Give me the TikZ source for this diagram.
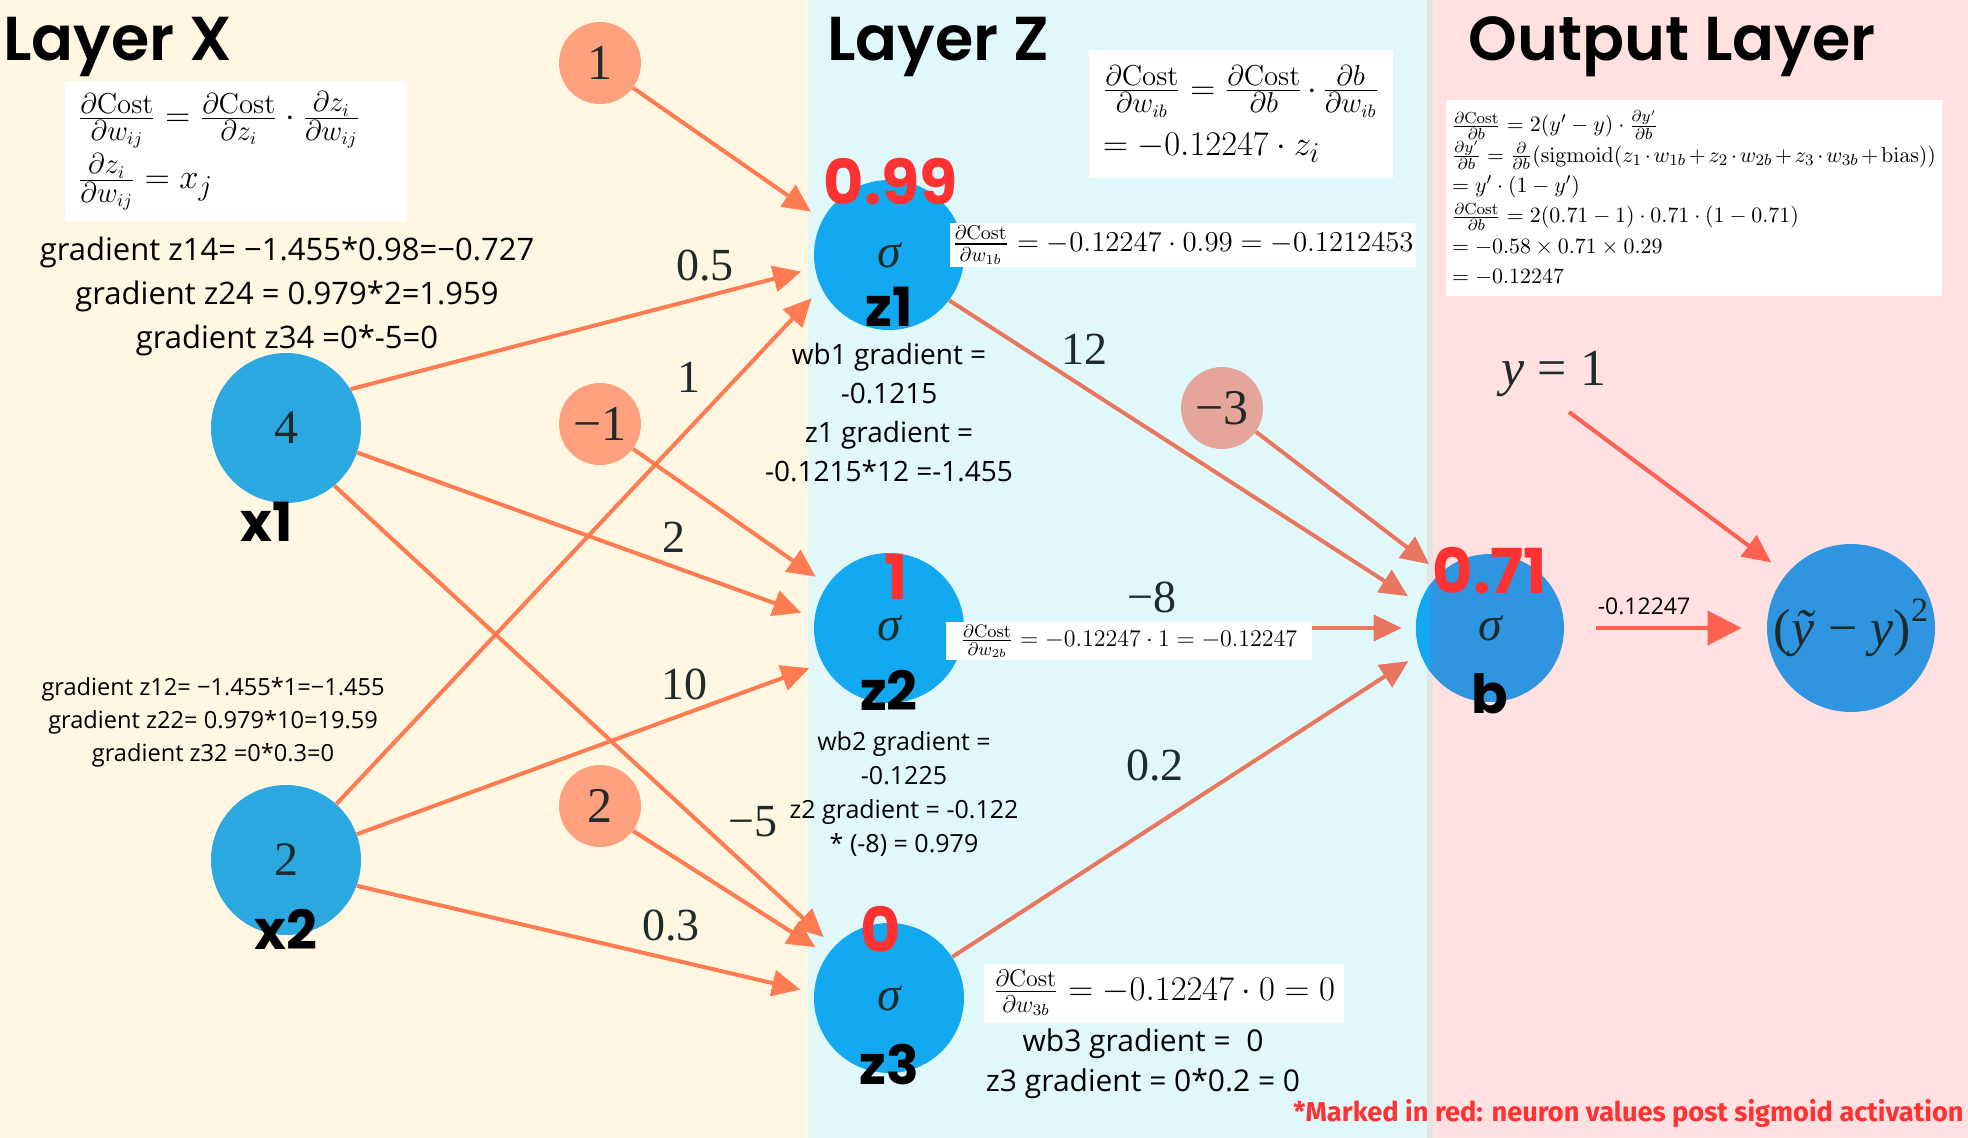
\documentclass[tikz,border=0pt]{standalone}
\usepackage[no-math]{fontspec}
\usepackage{amsmath}
\setmainfont{Open Sans}
\newfontfamily\headfont{Poppins}[BoldFont={Poppins SemiBold}]
\newfontfamily\labelfont{Poppins}
\newfontfamily\numfont{Liberation Serif}
\newfontfamily\notefont{Fira Sans}
\usetikzlibrary{arrows.meta}
\definecolor{creambg}{HTML}{FFF7E2}
\definecolor{cyanbg}{HTML}{E1F8FA}
\definecolor{pinkbg}{HTML}{FFE1E1}
\definecolor{greyband}{HTML}{E4E4E4}
\definecolor{inblue}{HTML}{2CA8E0}
\definecolor{hidblue}{HTML}{12A9F1}
\definecolor{outblue}{HTML}{3095E0}
\definecolor{biasfill}{HTML}{FFA07E}
\definecolor{biasfilltwo}{HTML}{E6A59B}
\definecolor{wline}{HTML}{FF7C52}
\definecolor{wlinez}{HTML}{E9765F}
\definecolor{wlineo}{HTML}{FF6150}
\definecolor{valred}{HTML}{FF3131}
\definecolor{numink}{HTML}{1E2B2B}
\begin{document}
\begin{tikzpicture}[x=0.5pt,y=-0.5pt,
  neuron/.style={circle,minimum size=75pt,inner sep=0pt,text=numink,font=\numfont\fontsize{24}{24}\selectfont},
  biasnode/.style={circle,fill=biasfill,minimum size=41pt,inner sep=0pt,text=numink,font=\numfont\fontsize{25}{25}\selectfont},
  wt/.style={line width=2pt,draw=wline,-{Triangle[length=14pt,width=13pt]},shorten >=7pt},
  wlabel/.style={text=numink,inner sep=0pt,font=\numfont\fontsize{23}{23}\selectfont},
  redval/.style={text=valred,inner sep=0pt,font=\labelfont\bfseries\fontsize{31}{31}\selectfont},
  nname/.style={inner sep=0pt,font=\labelfont\bfseries\fontsize{27}{27}\selectfont},
  title/.style={inner sep=0pt,font=\headfont\bfseries\fontsize{31}{31}\selectfont},
  fbox/.style={fill=white,inner sep=0pt,align=left},
  gradtext/.style={align=center,inner sep=0pt}]

\useasboundingbox (0,0) rectangle (1968,1138);
\fill[creambg] (0,0) rectangle (808,1138);
\fill[cyanbg] (808,0) rectangle (1430,1138);
\fill[pinkbg] (1430,0) rectangle (1968,1138);
\fill[greyband] (1427,0) rectangle (1433,1138);

\node[title,anchor=west] (tx) at (3,47) {Layer X};
\node[title] (tz) at (938,47) {Layer Z};
\node[title] (tout) at (1672,47) {Output Layer};

% neurons
\node[neuron,fill=inblue] (x1) at (286,428) {4};
\node[neuron,fill=inblue] (x2) at (286,860) {2};
\node[neuron,fill=hidblue] (z1) at (889,255) {\itshape σ};
\node[neuron,fill=hidblue] (z2) at (889,628) {\itshape σ};
\node[neuron,fill=hidblue] (z3) at (889,998) {\itshape σ};
\node[neuron,fill=outblue,minimum size=74pt] (b) at (1490,628) {};
\begin{scope}
\clip (1400,540) rectangle (1430,720);
\fill[hidblue] (b.center) circle (37pt);
\end{scope}
\node[text=numink,font=\numfont\itshape\fontsize{24}{24}\selectfont] (bsig) at (b.center) {σ};
\node[neuron,fill=outblue,minimum size=84pt,font=\numfont\fontsize{26}{26}\selectfont] (out) at (1851,628)
  {(\textit{ỹ} − \textit{y})\raisebox{0.45em}{\fontsize{17}{17}\selectfont 2}};

% biases
\node[biasnode] (bone) at (600,63) {1};
\node[biasnode] (bmone) at (600,424) {−1};
\node[biasnode] (btwo) at (600,806) {2};
\node[biasnode,fill=biasfilltwo] (bmthree) at (1222,408) {−3};

% weights into layer z
\draw[wt] (bone.-37) -- (z1.152);
\draw[wt] (x1.31) -- (z1.190);
\draw[wt] (x2.48) -- (z1.206);
\draw[wt] (bmone.-37) -- (z2.145);
\draw[wt] (x1.-19) -- (z2.172);
\draw[wt] (x2.20) -- (z2.208);
\draw[wt] (x1.-50) -- (z3.137);
\draw[wt] (btwo.-37) -- (z3.145);
\draw[wt] (x2.-20) -- (z3.176);
% weights into b
\draw[wt,draw=wlinez] (z1.-37) -- (b.161);
\draw[wt,draw=wlinez] (bmthree.-35) -- (b.132);
\draw[wt,draw=wlinez] (z2.east) -- (b.west);
\draw[wt,draw=wlinez] (z3.33) -- (b.200);
% output
\node[inner sep=0pt,text=numink,font=\numfont\fontsize{26}{26}\selectfont] (yval) at (1554,374) {\textit{y} = 1};
\coordinate (ystart) at (1569,412);
\draw[wt,draw=wlineo,shorten >=9.5pt] (ystart) -- (out.140);
\draw[wt,draw=wlineo,-{Triangle[length=17pt,width=17pt]},shorten <=16pt,shorten >=12.5pt] (b.east) -- (out.west);
\node[inner sep=0pt,font=\fontsize{11.5}{11.5}\selectfont] (bgrad) at (1644,606) {-0.12247};

\node[wlabel] (wa) at (705,266) {0.5};
\node[wlabel] (wb) at (689,377) {1};
\node[wlabel] (wc) at (674,537) {2};
\node[wlabel] (wd) at (684,684) {10};
\node[wlabel] (we) at (753,822) {−5};
\node[wlabel] (wf) at (671,926) {0.3};
\node[wlabel] (wg) at (1084,349) {12};
\node[wlabel] (wh) at (1152,597) {−8};
\node[wlabel] (wi) at (1155,766) {0.2};

% names and red values
\node[nname] (lx1) at (267,522) {x1};
\node[nname] (lx2) at (286,929) {x2};
\node[nname] (lz1) at (889,307) {z1};
\node[nname] (lz2) at (889,690) {z2};
\node[nname] (lz3) at (889,1064) {z3};
\node[nname] (lb) at (1490,694) {b};
\node[redval] (vz1) at (891,182) {0.99};
\node[redval] (vz2) at (896,577) {1};
\node[redval] (vz3) at (881,929) {0};
\node[redval] (vb) at (1490,571) {0.71};

% formula boxes
\node[fbox,minimum width=171pt,minimum height=70pt,text width=158pt,font=\fontsize{19}{31}\selectfont] (fx) at (236,151)
  {$\frac{\partial \mathrm{Cost}}{\partial w_{ij}} = \frac{\partial \mathrm{Cost}}{\partial z_i}\cdot\frac{\partial z_i}{\partial w_{ij}}$\\
   $\frac{\partial z_i}{\partial w_{ij}} = x_j$};
\node[fbox,minimum width=152pt,minimum height=64pt,text width=138pt,font=\fontsize{19}{28}\selectfont] (fz) at (1241,114)
  {$\frac{\partial \mathrm{Cost}}{\partial w_{ib}} = \frac{\partial \mathrm{Cost}}{\partial b}\cdot\frac{\partial b}{\partial w_{ib}}$\\
   $= -0.12247\cdot z_i$};
\node[fbox,minimum width=233pt,minimum height=22pt,font=\fontsize{14.5}{14.5}\selectfont] (fz1) at (1183,245)
  {$\frac{\partial \mathrm{Cost}}{\partial w_{1b}} = -0.12247\cdot 0.99 = -0.1212453$};
\node[fbox,minimum width=183pt,minimum height=19pt,font=\fontsize{13}{13}\selectfont] (fz2) at (1129,641)
  {$\frac{\partial \mathrm{Cost}}{\partial w_{2b}} = -0.12247\cdot 1 = -0.12247$};
\node[fbox,minimum width=180pt,minimum height=29.5pt,font=\fontsize{17}{17}\selectfont] (fz3) at (1164,993)
  {$\frac{\partial \mathrm{Cost}}{\partial w_{3b}} = -0.12247\cdot 0 = 0$};
\node[fbox,minimum width=248pt,minimum height=98pt,text width=242pt,font=\fontsize{11}{15.2}\selectfont] (fout) at (1694,198)
  {$\frac{\partial \mathrm{Cost}}{\partial b} = 2(y'-y)\cdot\frac{\partial y'}{\partial b}$\\
   $\frac{\partial y'}{\partial b} = \frac{\partial}{\partial b}(\mathrm{sigmoid}(z_1\cdot w_{1b}+z_2\cdot w_{2b}+z_3\cdot w_{3b}+\mathrm{bias}))$\\
   $= y'\cdot(1-y')$\\
   $\frac{\partial \mathrm{Cost}}{\partial b} = 2(0.71-1)\cdot 0.71\cdot(1-0.71)$\\
   $= -0.58\times 0.71\times 0.29$\\
   $= -0.12247$};

% gradient notes
\node[gradtext,font=\fontsize{15.5}{22}\selectfont] (gtop) at (287,296)
  {gradient z14= −1.455*0.98=−0.727\\gradient z24 = 0.979*2=1.959\\gradient z34 =0*-5=0};
\node[gradtext,font=\fontsize{11.8}{16.5}\selectfont] (gbot) at (213,722)
  {gradient z12= −1.455*1=−1.455\\gradient z22= 0.979*10=19.59\\gradient z32 =0*0.3=0};
\node[gradtext,font=\fontsize{14}{19.5}\selectfont] (gz1) at (889,413)
  {wb1 gradient =\\-0.1215\\z1 gradient =\\-0.1215*12 =-1.455};
\node[gradtext,font=\fontsize{12.5}{17}\selectfont] (gz2) at (904,794)
  {wb2 gradient =\\-0.1225\\z2 gradient = -0.122\\{*} (-8) = 0.979};
\node[gradtext,font=\fontsize{15}{20}\selectfont] (gz3) at (1143,1064)
  {wb3 gradient =\ \ 0\\z3 gradient = 0*0.2 = 0};

\node[anchor=east,inner sep=0pt,text=valred,font=\notefont\bfseries\fontsize{13.6}{13.6}\selectfont] (note) at (1964,1113)
  {*Marked in red: neuron values post sigmoid activation};
\end{tikzpicture}
\end{document}
